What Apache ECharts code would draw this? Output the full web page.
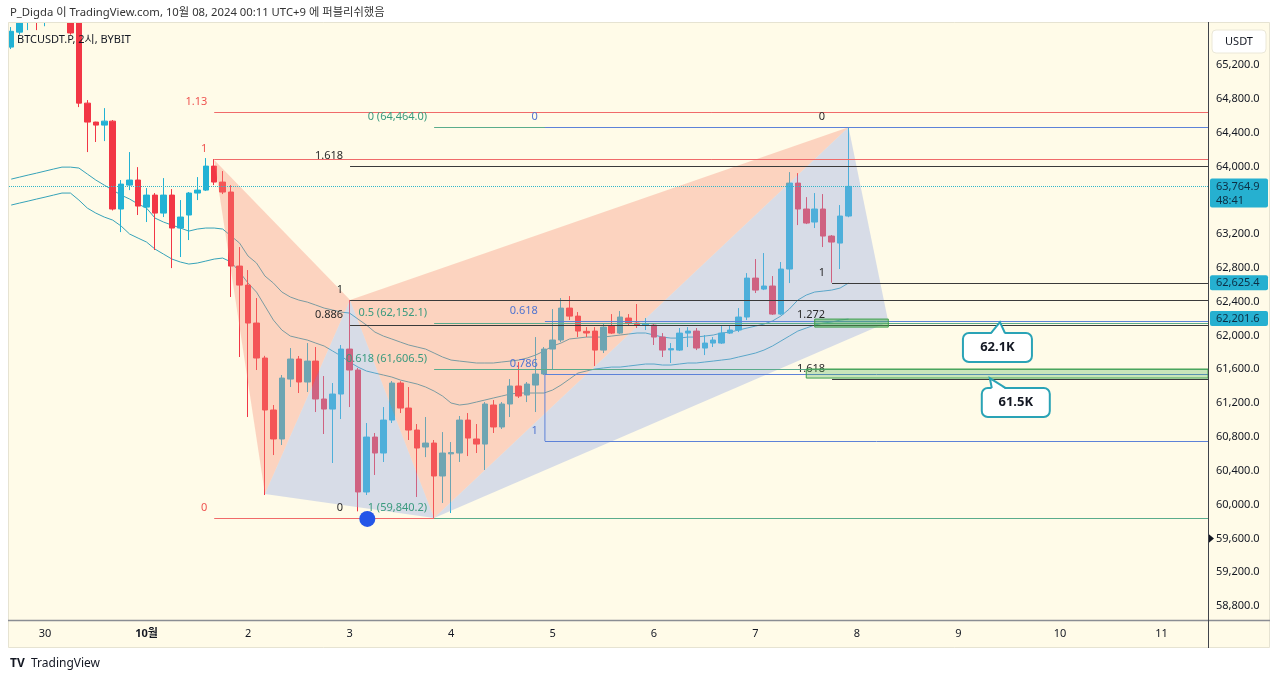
<!DOCTYPE html>
<html>
<head>
<meta charset="utf-8">
<script src="https://cdn.jsdelivr.net/npm/echarts@6/dist/echarts.min.js"></script>
<style>
html,body{margin:0;padding:0;background:#fff}
#main{width:1280px;height:681px}
</style>
</head>
<body>
<div id="main"></div>
<script>
// ---- data ----
var dayTicks = ['30', '10월', '2', '3', '4', '5', '6', '7', '8', '9', '10', '11'];

// 2h bars, [open, close, low, high]; first one is 4 bars before 30th 01:00
var candles = [
[65413,65600,65390,65650],[65590,65900,65560,66000],[65900,66050,65614,66100],[66100,65950,65614,66200],
[65950,66100,65660,66200],[66100,66250,65800,66300],[66250,65950,65780,66300],[65950,65580,65560,66000],
[65720,64750,64703,65750],[64750,64526,64171,64786],[64526,64490,64290,64530],[64490,64537,64301,64691],
[64537,63497,63480,64550],[63497,63792,63224,63840],[63780,63840,63721,64171],[63840,63532,63426,63993],
[63520,63662,63343,63745],[63662,63449,63012,63686],[63449,63662,63402,63863],[63662,63272,62798,63733],
[63272,63402,62929,63603],[63426,63686,63130,63698],[63686,63721,63603,63875],[63721,64005,63710,64100],
[64005,63816,63780,64088],[63816,63698,63674,63946],[63698,62822,62456,63780],[62822,62597,61746,63047],
[62597,62148,61036,62775],[62148,61734,61592,62444],[61734,61119,60113,61760],[61119,60776,60586,61178],
[60776,61497,60705,61533],[61485,61722,61391,61852],[61722,61450,61320,61758],[61450,61698,61332,61911],
[61698,61249,61095,61864],[61249,61130,60835,61521],[61130,61308,60492,61438],[61308,61840,61012,61888],
[61840,61592,61154,62420],[61592,60149,59920,61616],[60149,60799,60113,60965],[60799,60610,60350,60847],
[60610,61000,60504,61154],[61000,61438,60965,61462],[61438,61142,61083,61460],[61142,60882,60764,61391],
[60882,60669,60090,60953],[60681,60728,60562,61036],[60728,60338,59840.2,60764],[60338,60610,60019,60858],
[60600,60615,59900,60740],[60610,61000,60504,61048],[61000,60787,60574,61083],[60776,60716,60610,60953],
[60716,61190,60409,61213],[61178,60918,60847,61237],[60918,61190,60894,61213],[61190,61403,61036,61485],
[61403,61284,61261,61687],[61296,61426,61213,61450],[61414,61545,61095,61982],[61545,61840,61533,61864],
[61840,61947,61604,62313],[61947,62325,61923,62444],[62325,62230,62183,62467],[62230,62053,61982,62278],
[62050,62030,61982,62100],[62053,61828,61639,62100],[61828,62100,61793,62148],[62112,62029,62018,62254],
[62029,62219,62018,62290],[62207,62148,62124,62254],[62148,62124,62089,62373],[62120,62135,62065,62207],
[62124,61982,61888,62148],[61982,61828,61746,62029],[61830,61845,61675,61911],[61828,62029,61817,62089],
[62029,62053,61864,62100],[62053,61852,61828,62089],[61852,61911,61769,62006],[61911,61947,61864,61982],
[61911,62029,61900,62112],[62029,62065,62018,62124],[62065,62219,62041,62325],[62219,62680,62183,62739],
[62680,62538,62503,62905],[62550,62586,62538,62976],[62586,62254,62243,62704],[62254,62787,62243,62870],
[62787,63804,62621,63934],[63804,63497,63307,63922],[63497,63331,63319,63638],[63343,63497,63272,63686],
[63497,63177,63047,63674],[63177,63106,62625.4,63189],[63094,63414,62787,63544],[63414,63764.9,63400,64464]
];

var upperBand = [
63851,63875,63899,63922,63946,63970,63993,63993,63982,
63911,63840,63780,63721,63662,63615,63556,63508,63390,63343,
63307,63272,63236,63260,63272,63272,63260,63177,63094,62941,
62858,62704,62621,62515,62456,62420,62396,62361,62325,62302,
62278,62266,62195,62124,62041,61994,61959,61923,61888,61864,
61840,61793,61746,61710,61698,61687,61675,61675,61675,61687,
61698,61710,61734,61769,61817,61876,61911,61959,61970,61982,
61982,61982,61994,62006,62018,62030,62030,62006,61982,61970,
61970,61982,61982,61994,62006,62030,62041,62065,62089,62112,
62136,62172,62231,62314,62420,62479,62515,62526,62538,62562,
62621
];
var lowerBand = [
63544,63568,63591,63615,63638,63662,63686,63686,63603,
63508,63449,63402,63366,63295,63201,63153,63106,63023,62964,
62905,62870,62846,62858,62881,62905,62917,62870,62751,62621,
62514,62349,62183,62065,61994,61970,61947,61911,61876,61817,
61758,61687,61627,61580,61556,61533,61509,61474,61450,61426,
61391,61343,61284,61202,61178,61190,61213,61237,61261,61284,
61308,61320,61320,61320,61320,61355,61414,61485,61556,61580,
61604,61616,61627,61627,61639,61651,61663,61663,61651,61651,
61663,61675,61675,61687,61698,61710,61722,61746,61769,61793,
61828,61876,61935,61994,62053,62089,62124,62148,62160,62183,
62195
];

// fib drawings: level prices, labels, start bar
var redFib = [64644, 64088, 59840.2];
var redFibLabels = ['1.13', '1', '0'];
var redFibStart = 20;
var blackFib = [64005, 62420, 62124, 59840.2];
var blackFibLabels = ['1.618', '1', '0.886', '0'];
var blackFibStart = 36.06;
var greenFib = [64464.0, 62152.1, 61606.5, 59840.2];
var greenFibLabels = ['0 (64,464.0)', '0.5 (62,152.1)', '0.618 (61,606.5)', '1 (59,840.2)'];
var greenFibStart = 46;
var blueFib = [64464, 62170, 61550, 60752];
var blueFibLabels = ['0', '0.618', '0.786', '1'];
var blueFibStart = 59.1;
var rightFib = [64464, 62625.4, 62125, 61490];
var rightFibLabels = ['0', '1', '1.272', '1.618'];
var rightFibStart = 93.05;

// harmonic pattern vertices (bar, price)
var patternBar = [20, 26, 36.06, 46, 95, 99.7];
var patternPrice = [64076, 60125, 62420, 59840.2, 64464, 62160];
var patternTriangles = [[0, 1, 2], [1, 2, 3], [2, 3, 4], [3, 4, 5]];

// zones [barFrom, barTo, priceTop, priceBottom]
var zones = [[91.0, 99.7, 62195, 62100], [90.0, 137.5, 61604, 61497]];

var callouts = [[112.9, 62160], [111.7, 61497]];
var calloutText = ['62.1K', '61.5K'];

var lowDot = [[38.1, 59830]];
var lastPrice = 63764.9;
var priceTags = [63764.9, 62625.4, 62201.6];
var priceTagSub = ['48:41', '', ''];
var alertPrice = 59600;

// ---- layout ----
var LEAD = 4, SLOTS = 142;
var K_MIN = -LEAD - 0.5, K_MAX = SLOTS - LEAD - 0.5;
var FONT = '"Noto Sans", "Noto Sans CJK KR", sans-serif';
var UP = '#22b2d4', DOWN = '#f23645', TEXT = '#131722';

var cats = [];
for (var j = 0; j < SLOTS; j++) cats.push(String(j - LEAD));

function fmtPrice(v) {
  return v.toLocaleString('en-US', {minimumFractionDigits: 1, maximumFractionDigits: 1});
}

function fibSeries(levels, labels, start, lineColor, textColor) {
  return {
    type: 'custom', xAxisIndex: 1, yAxisIndex: 0, z: 4, silent: true,
    data: levels.map(function (p, i) { return [start, p, i]; }),
    renderItem: function (params, api) {
      var i = params.dataIndex;
      var s = api.coord([api.value(0), api.value(1)]);
      var e = api.coord([K_MAX, api.value(1)]);
      var y = Math.round(s[1]) + 0.5;
      return {type: 'group', children: [
        {type: 'line', shape: {x1: s[0], y1: y, x2: e[0], y2: y}, style: {stroke: lineColor, lineWidth: 1}},
        {type: 'text', x: s[0] - 7, y: y - 11,
          style: {text: labels[i], fill: textColor, font: '11px ' + FONT, align: 'right', textAlign: 'right', verticalAlign: 'middle', textVerticalAlign: 'middle'}}
      ]};
    }
  };
}

var myChart = echarts.init(document.getElementById('main'));

myChart.setOption({
  backgroundColor: '#fffbe8',
  animation: false,
  grid: {left: 7, right: 72, top: 22, bottom: 41.2},
  xAxis: [{
    type: 'category', data: cats, boundaryGap: true, offset: -20,
    axisLine: {show: false}, axisTick: {show: false}, splitLine: {show: false},
    axisLabel: {
      margin: 9, color: TEXT, fontSize: 11, fontFamily: FONT,
      interval: function (index) { return index >= LEAD && (index - LEAD) % 12 === 0; },
      formatter: function (value, index) {
        var t = dayTicks[(index - LEAD) / 12];
        if (t === undefined) return '';
        return t === '10월' ? '{b|' + t + '}' : t;
      },
      rich: {b: {fontWeight: 'bold', fontSize: 11, color: TEXT, fontFamily: FONT}}
    }
  }, {
    type: 'value', min: K_MIN, max: K_MAX, show: false
  }],
  yAxis: {
    type: 'value', position: 'right', min: 58400, max: 65710, interval: 400, scale: true,
    axisLine: {show: false}, axisTick: {show: false}, splitLine: {show: false},
    axisLabel: {
      margin: 8, color: TEXT, fontSize: 11, fontFamily: FONT,
      formatter: function (v) {
        if (v < 58600 || v > 65400 || v % 400 !== 0 || v === 63600) return '';
        return fmtPrice(v);
      }
    }
  },
  series: [
    {
      type: 'candlestick', data: candles, barWidth: 6, z: 2,
      itemStyle: {color: UP, color0: DOWN, borderColor: UP, borderColor0: DOWN, borderWidth: 1},
      markLine: {
        silent: true, symbol: 'none', label: {show: false},
        lineStyle: {type: 'dotted', color: '#33b5c9', width: 1},
        data: [{yAxis: lastPrice}]
      }
    },
    {type: 'line', data: upperBand, symbol: 'none', z: 2, lineStyle: {color: '#36a3b9', width: 1}},
    {type: 'line', data: lowerBand, symbol: 'none', z: 2, lineStyle: {color: '#36a3b9', width: 1}},
    {
      type: 'custom', xAxisIndex: 1, yAxisIndex: 0, z: 3, silent: true,
      data: patternTriangles.map(function (t, i) { return [patternBar[t[0]], patternPrice[t[0]], i]; }),
      renderItem: function (params, api) {
        var t = patternTriangles[params.dataIndex];
        var pts = t.map(function (v) { return api.coord([patternBar[v], patternPrice[v]]); });
        var fill = params.dataIndex % 2 === 0 ? 'rgba(247,140,120,0.36)' : 'rgba(150,170,230,0.38)';
        return {type: 'polygon', shape: {points: pts}, style: {fill: fill}};
      }
    },
    fibSeries(blackFib, blackFibLabels, blackFibStart, '#3a3a3a', '#2a2a2a'),
    fibSeries(redFib, redFibLabels, redFibStart, '#f06a6a', '#ef5350'),
    fibSeries(rightFib, rightFibLabels, rightFibStart, '#3a3a3a', '#2a2a2a'),
    fibSeries(greenFib, greenFibLabels, greenFibStart, '#5aac8c', '#3a9a7e'),
    fibSeries(blueFib, blueFibLabels, blueFibStart, '#5d82d8', '#4f74d0'),
    {
      type: 'line', xAxisIndex: 1, yAxisIndex: 0, z: 4, symbol: 'none', silent: true,
      data: [[blueFibStart, blueFib[2]], [blueFibStart, blueFib[3]]],
      lineStyle: {color: '#5d82d8', width: 1}
    },
    {
      type: 'custom', xAxisIndex: 1, yAxisIndex: 0, z: 5, silent: true,
      data: zones.map(function (zn, i) { return [zn[0], zn[2], i]; }),
      renderItem: function (params, api) {
        var zn = zones[params.dataIndex];
        var a = api.coord([zn[0], zn[2]]), b = api.coord([zn[1], zn[3]]);
        return {type: 'rect', shape: {x: a[0], y: a[1], width: b[0] - a[0], height: b[1] - a[1]},
          style: {fill: params.dataIndex === 0 ? 'rgba(76,175,80,0.45)' : 'rgba(76,175,80,0.3)', stroke: '#3f9f4c', lineWidth: 1}};
      }
    },
    {
      type: 'scatter', xAxisIndex: 1, yAxisIndex: 0, z: 6, data: lowDot, symbolSize: 16,
      itemStyle: {color: '#2456e8', opacity: 1}, silent: true
    },
    {
      type: 'custom', xAxisIndex: 1, yAxisIndex: 0, z: 7, silent: true,
      data: callouts.map(function (c, i) { return [c[0], c[1], i]; }),
      renderItem: function (params, api) {
        var i = params.dataIndex;
        var box = [{l: -37, r: 32, t: 11, b: 40, a: -9, c: 5}, {l: -8, r: 60, t: 10, b: 39, a: 2, c: 16}][i];
        var p = api.coord(callouts[i]);
        var x0 = p[0] + box.l, x1 = p[0] + box.r, y0 = p[1] + box.t, y1 = p[1] + box.b;
        var edge = '#2aa3b6';
        return {type: 'group', children: [
          {type: 'rect', shape: {x: x0, y: y0, width: x1 - x0, height: y1 - y0, r: 6}, style: {fill: '#ffffff', stroke: edge, lineWidth: 2}},
          {type: 'polygon', shape: {points: [[p[0] + box.a, y0 + 1.5], [p[0], p[1]], [p[0] + box.c, y0 + 1.5]]}, style: {fill: '#ffffff'}},
          {type: 'polyline', shape: {points: [[p[0] + box.a, y0], [p[0], p[1]], [p[0] + box.c, y0]]}, style: {stroke: edge, lineWidth: 2, fill: null}},
          {type: 'text', x: (x0 + x1) / 2, y: (y0 + y1) / 2,
            style: {text: calloutText[i], fill: TEXT, font: 'bold 13px ' + FONT, align: 'center', textAlign: 'center', verticalAlign: 'middle', textVerticalAlign: 'middle'}}
        ]};
      }
    },
    {
      type: 'custom', xAxisIndex: 1, yAxisIndex: 0, z: 7, silent: true,
      data: priceTags.map(function (p, i) { return [K_MAX, p, i]; }),
      renderItem: function (params, api) {
        var i = params.dataIndex;
        var c = api.coord([K_MAX, priceTags[i]]);
        var sub = priceTagSub[i];
        var top = sub ? c[1] - 8 : c[1] - 7.5;
        var h = sub ? 29 : 15;
        var kids = [
          {type: 'rect', shape: {x: c[0] + 2, y: top, width: 58, height: h, r: 2}, style: {fill: '#26b0d0'}},
          {type: 'text', x: c[0] + 8, y: c[1],
            style: {text: fmtPrice(priceTags[i]), fill: '#0c2f45', font: '11px ' + FONT, align: 'left', textAlign: 'left', verticalAlign: 'middle', textVerticalAlign: 'middle'}}
        ];
        if (sub) {
          kids.push({type: 'text', x: c[0] + 8, y: c[1] + 14,
            style: {text: sub, fill: '#0c2f45', font: '11px ' + FONT, align: 'left', textAlign: 'left', verticalAlign: 'middle', textVerticalAlign: 'middle'}});
        }
        return {type: 'group', children: kids};
      }
    },
    {
      type: 'custom', xAxisIndex: 1, yAxisIndex: 0, z: 7, silent: true,
      data: [[K_MAX, alertPrice]],
      renderItem: function (params, api) {
        var c = api.coord([K_MAX, alertPrice]);
        return {type: 'polygon', shape: {points: [[c[0], c[1] - 5], [c[0] + 6, c[1]], [c[0], c[1] + 5]]}, style: {fill: TEXT}};
      }
    }
  ],
  graphic: [
    {type: 'rect', z: 100, shape: {x: 0, y: 0, width: 1280, height: 22}, style: {fill: '#ffffff'}},
    {type: 'rect', z: 100, shape: {x: 0, y: 648, width: 1280, height: 33}, style: {fill: '#ffffff'}},
    {type: 'rect', z: 100, shape: {x: 0, y: 0, width: 8, height: 681}, style: {fill: '#ffffff'}},
    {type: 'rect', z: 100, shape: {x: 1270, y: 0, width: 10, height: 681}, style: {fill: '#ffffff'}},
    {type: 'rect', z: 101, shape: {x: 8.5, y: 22.5, width: 1261, height: 625}, style: {fill: null, stroke: '#e6e3d2', lineWidth: 1}},
    {type: 'line', z: 101, shape: {x1: 8, y1: 620.5, x2: 1270, y2: 620.5}, style: {stroke: '#8a8d93', lineWidth: 1.5}},
    {type: 'line', z: 101, shape: {x1: 1208.5, y1: 22, x2: 1208.5, y2: 648}, style: {stroke: '#40434a', lineWidth: 1}},
    {type: 'text', z: 102, x: 10, y: 13,
      style: {text: 'P_Digda 이 TradingView.com, 10월 08, 2024 00:11 UTC+9 에 퍼블리쉬했음', fill: '#333333', font: '11.3px ' + FONT, verticalAlign: 'middle', textVerticalAlign: 'middle'}},
    {type: 'text', z: 102, x: 17, y: 40,
      style: {text: 'BTCUSDT.P, 2시, BYBIT', fill: TEXT, font: '11px ' + FONT, verticalAlign: 'middle', textVerticalAlign: 'middle'}},
    {type: 'rect', z: 102, shape: {x: 1212, y: 30, width: 54, height: 23, r: 4}, style: {fill: '#ffffff', stroke: '#ebe8d8', lineWidth: 1}},
    {type: 'text', z: 103, x: 1239, y: 41.5,
      style: {text: 'USDT', fill: TEXT, font: '11px ' + FONT, align: 'center', textAlign: 'center', verticalAlign: 'middle', textVerticalAlign: 'middle'}},
    {type: 'text', z: 102, x: 10, y: 664,
      style: {text: 'TV', fill: '#131722', font: 'bold 12px ' + FONT, verticalAlign: 'middle', textVerticalAlign: 'middle'}},
    {type: 'text', z: 102, x: 31, y: 664,
      style: {text: 'TradingView', fill: '#131722', font: '12px ' + FONT, verticalAlign: 'middle', textVerticalAlign: 'middle'}}
  ]
});
</script>
</body>
</html>
